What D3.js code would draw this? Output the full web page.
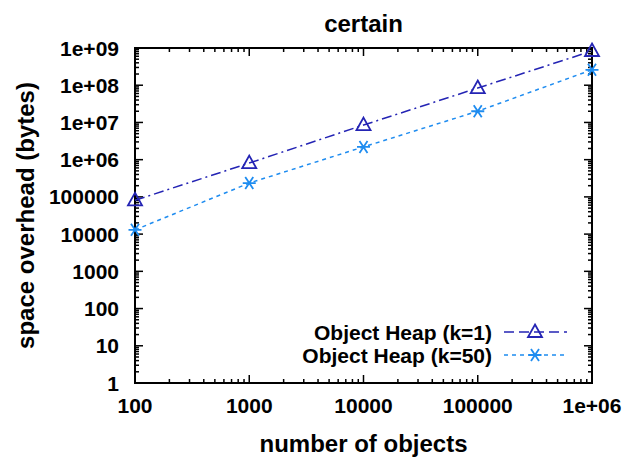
<!DOCTYPE html>
<html>
<head>
<meta charset="utf-8">
<script src="https://cdn.jsdelivr.net/npm/d3@7"></script>
<style>
  body { margin: 0; background: #fff; }
  text { font-family: "Liberation Sans", Arial, Helvetica, sans-serif; font-weight: bold; fill: #000; }
</style>
</head>
<body>
<div id="chart"></div>
<script>
// number of objects on the x axis
const objects = [100, 1000, 10000, 100000, 1000000];

// space overhead (bytes) per series
const heapK1 = [81000, 810000, 8500000, 84000000, 830000000];
const heapK50 = [13000, 235000, 2200000, 20000000, 260000000];

const xTicks = [100, 1000, 10000, 100000, 1000000];
const xTickLabels = ["100", "1000", "10000", "100000", "1e+06"];
const yTicks = [1, 10, 100, 1000, 10000, 100000, 1e6, 1e7, 1e8, 1e9];
const yTickLabels = ["1", "10", "100", "1000", "10000", "100000", "1e+06", "1e+07", "1e+08", "1e+09"];

const width = 626, height = 457;
const margin = { top: 48, right: 34, bottom: 74, left: 135 };
const iw = width - margin.left - margin.right;
const ih = height - margin.top - margin.bottom;

const svg = d3.select("#chart").append("svg")
    .attr("width", width)
    .attr("height", height);

const g = svg.append("g").attr("transform", `translate(${margin.left},${margin.top})`);

const x = d3.scaleLog().domain([100, 1e6]).range([0, iw]);
const y = d3.scaleLog().domain([1, 1e9]).range([ih, 0]);

// minor ticks at 2..9 of each decade
function minors(lo, hi) {
    const out = [];
    for (let d = lo; d < hi; d *= 10)
        for (let m = 2; m <= 9; m++) out.push(d * m);
    return out;
}
const xMinor = minors(100, 1e6);
const yMinor = minors(1, 1e9);

function tickLines(data, horiz, pos, len) {
    g.selectAll(null).data(data).enter().append("line")
        .attr(horiz ? "x1" : "y1", d => horiz ? x(d) : y(d))
        .attr(horiz ? "x2" : "y2", d => horiz ? x(d) : y(d))
        .attr(horiz ? "y1" : "x1", pos)
        .attr(horiz ? "y2" : "x2", pos + len)
        .attr("stroke", "#000").attr("stroke-width", 1.5);
}
// inward ticks on all four sides
tickLines(xTicks, true, ih, -8);
tickLines(xTicks, true, 0, 8);
tickLines(xMinor, true, ih, -4);
tickLines(xMinor, true, 0, 4);
tickLines(yTicks, false, 0, 8);
tickLines(yTicks, false, iw, -8);
tickLines(yMinor, false, 0, 4);
tickLines(yMinor, false, iw, -4);

// frame
g.append("rect").attr("width", iw).attr("height", ih)
    .attr("fill", "none").attr("stroke", "#000").attr("stroke-width", 2);

// tick labels
g.selectAll(".xl").data(xTicks).enter().append("text")
    .attr("x", d => x(d)).attr("y", ih + 30)
    .attr("text-anchor", "middle").attr("font-size", 21)
    .text((d, i) => xTickLabels[i]);
g.selectAll(".yl").data(yTicks).enter().append("text")
    .attr("x", -16).attr("y", d => y(d) + 7.5)
    .attr("text-anchor", "end").attr("font-size", 21)
    .text((d, i) => yTickLabels[i]);

// titles
svg.append("text").attr("x", margin.left + iw / 2).attr("y", 32)
    .attr("text-anchor", "middle").attr("font-size", 24).text("certain");
svg.append("text").attr("x", margin.left + iw / 2).attr("y", 452)
    .attr("text-anchor", "middle").attr("font-size", 24).text("number of objects");
svg.append("text")
    .attr("transform", `translate(34,${margin.top + ih / 2}) rotate(-90)`)
    .attr("text-anchor", "middle").attr("font-size", 24).text("space overhead (bytes)");

const series = [
    { name: "Object Heap (k=1)", values: heapK1, color: "#2424b4", dash: "10,4,2,4", marker: "tri" },
    { name: "Object Heap (k=50)", values: heapK50, color: "#1e8cf0", dash: "4,4", marker: "star" }
];

function drawMarker(sel, kind, color) {
    if (kind === "tri") {
        sel.append("path").attr("d", "M0,-7.5L7,5L-7,5Z")
            .attr("fill", "none").attr("stroke", color).attr("stroke-width", 1.8);
    } else {
        sel.append("path").attr("d", "M-6.5,0H6.5M-4,-6L4,6M-4,6L4,-6")
            .attr("fill", "none").attr("stroke", color).attr("stroke-width", 1.8);
    }
}

const line = d3.line().x(d => x(d[0])).y(d => y(d[1]));

series.forEach(s => {
    const pts = objects.map((o, i) => [o, s.values[i]]);
    g.append("path").datum(pts).attr("d", line)
        .attr("fill", "none").attr("stroke", s.color)
        .attr("stroke-width", 1.5).attr("stroke-dasharray", s.dash);
    pts.forEach(p => {
        const m = g.append("g").attr("transform", `translate(${x(p[0])},${y(p[1])})`);
        drawMarker(m, s.marker, s.color);
    });
});

// legend
series.forEach((s, i) => {
    const ly = 332 + i * 23;
    svg.append("text").attr("x", 492).attr("y", ly + 7.5)
        .attr("text-anchor", "end").attr("font-size", 21).text(s.name);
    svg.append("line").attr("x1", 504).attr("x2", 567).attr("y1", ly).attr("y2", ly)
        .attr("stroke", s.color).attr("stroke-width", 1.5).attr("stroke-dasharray", i === 0 ? "10,5" : "4,4");
    const m = svg.append("g").attr("transform", `translate(535,${ly})`);
    drawMarker(m, s.marker, s.color);
});
</script>
</body>
</html>
